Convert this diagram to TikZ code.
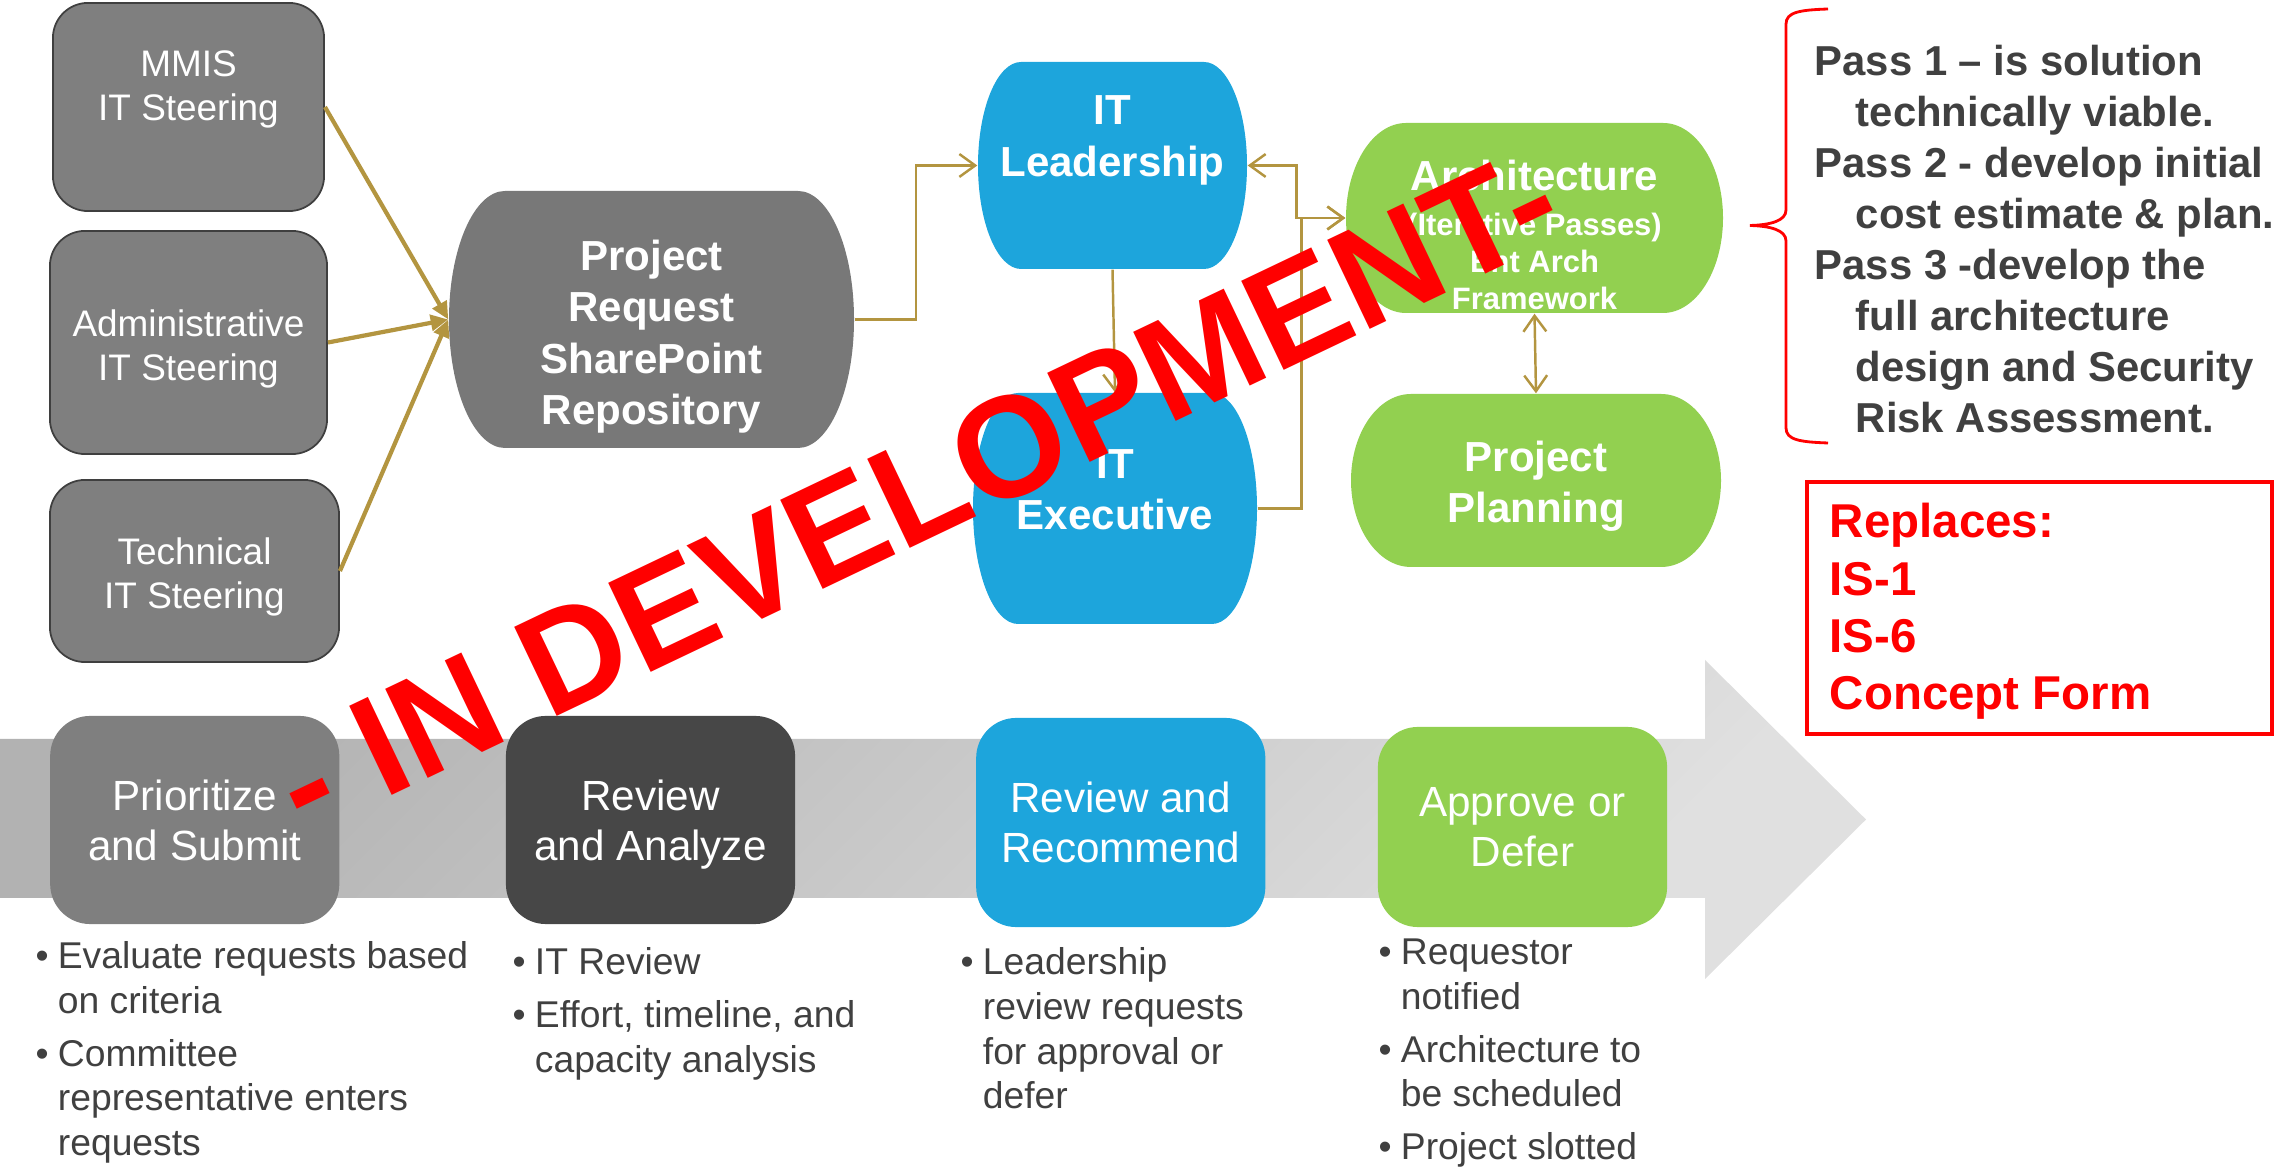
\documentclass[tikz,border=0pt]{standalone}
\usepackage{fontspec}
\setmainfont{Liberation Sans}
\usetikzlibrary{arrows.meta}
\usetikzlibrary{calc}
\definecolor{boxgray}{HTML}{7F7F7F}
\definecolor{repogray}{HTML}{787878}
\definecolor{stepdark}{HTML}{474747}
\definecolor{itblue}{HTML}{1DA5DC}
\definecolor{itgreen}{HTML}{92D050}
\definecolor{linkgold}{HTML}{B39540}
\definecolor{notegray}{HTML}{404040}
\definecolor{edgegray}{HTML}{3F3F3F}
\newcommand{\drawbarrel}[8]{
    \begin{scope}[shift={(#2)}]
        \fill [#6] (-#3+#5,-#4) -- (#3-#5,-#4)
            .. controls (#3-0.448*#5,-#4) and (#3,-0.552*#4) .. (#3,0)
            .. controls (#3,0.552*#4) and (#3-0.448*#5,#4) .. (#3-#5,#4)
            -- (-#3+#5,#4)
            .. controls (-#3+0.448*#5,#4) and (-#3,0.552*#4) .. (-#3,0)
            .. controls (-#3,-0.552*#4) and (-#3+0.448*#5,-#4) .. cycle;
    \end{scope}
    \node [minimum width={2*#3*0.01cm}, minimum height={2*#4*0.01cm}, inner sep=0pt] (#1) at (#2) {};
    \node [barreltext, #7] (#1-text) at (#2) {#8};
}
\tikzset{
    >={Straight Barb[length=4.5pt,width=6.5pt]},
    steerbox/.style={draw=edgegray, line width=0.5pt, fill=boxgray, rounded corners=0.35cm, inner sep=0pt},
    steertext/.style={inner sep=0pt, text=white, align=center, font=\fontsize{10.5}{12.5}\selectfont},
    stagebox/.style={fill=#1, rounded corners=0.4cm, inner sep=0pt, minimum width=2.89cm, minimum height=2.08cm, text=white, align=center, text depth=0pt, font=\fontsize{12}{14.2}\selectfont},
    barreltext/.style={inner sep=0pt, text=white, align=center, font=\bfseries\fontsize{11.95}{14.6}\selectfont},
    feed/.style={draw=linkgold, line width=1.2pt, -{Triangle[length=5pt,width=4.5pt]}},
    link/.style={draw=linkgold, line width=0.7pt, ->},
    notes/.style={anchor=base west, inner sep=0pt, text=notegray, font=\fontsize{10.6}{12.66}\selectfont},
    passnote/.style={anchor=base west, inner sep=0pt, text=notegray, font=\bfseries\fontsize{11.9}{14.5}\selectfont},
    replnote/.style={anchor=base west, inner sep=0pt, text=red, font=\bfseries\fontsize{13.5}{16.3}\selectfont},
    watermark/.style={rotate=25.5, inner sep=0pt, text=red, font=\bfseries\fontsize{40.8}{49}\selectfont},
}
\begin{document}
\begin{tikzpicture}[x=0.01cm, y=-0.01cm]
    \useasboundingbox (0,0) rectangle (2279,1168);
    % steering committees
    \node [steerbox, minimum width=2.71cm, minimum height=2.08cm] (mmis) at (188.5,107) {};
    \node [steertext] (mmis-text) at (188.5,89) {MMIS\\IT Steering};
    \node [steerbox, minimum width=2.77cm, minimum height=2.23cm] (admin) at (188.5,342.5) {};
    \node [steertext] (admin-text) at (188.5,348.5) {Administrative\\IT Steering};
    \node [steerbox, minimum width=2.89cm, minimum height=1.82cm] (tech) at (194.5,571) {};
    \node [steertext] (tech-text) at (194.5,577) {Technical\\IT Steering};
    % repository and reviewers
    \drawbarrel{pr}{651.5,319.5}{202.5}{128.5}{56}{repogray}{yshift=-0.17cm}{Project\\Request\\SharePoint\\Repository}
    \drawbarrel{lead}{1112.5,165.5}{134.5}{103.5}{43}{itblue}{yshift=0.25cm}{IT\\Leadership}
    \drawbarrel{exec}{1115,508.5}{142}{115.5}{45}{itblue}{yshift=0.19cm}{IT\\Executive}
    \drawbarrel{arch}{1534.5,218}{188.5}{95}{60}{itgreen}{yshift=-0.17cm, font=\bfseries\fontsize{8.8}{10.5}\selectfont}{{\fontsize{11.95}{14}\selectfont Architecture}\\[2.3pt](Iterative Passes)\\Ent Arch\\Framework}
    \drawbarrel{plan}{1536,480.5}{185}{86.5}{60}{itgreen}{yshift=-0.06cm}{Project\\Planning}
    % connectors
    \draw [feed] (mmis.east) -- (pr.west);
    \draw [feed] (admin.east) -- (pr.west);
    \draw [feed] (tech.east) -- (pr.west);
    \draw [link] (pr.east) -| ($(pr.east)!0.5!(lead.west)$) |- (lead.west);
    \draw [link, <->] (lead.east) -| ($(lead.east)!0.5!(arch.west)$) |- (arch.west);
    \draw [link] (exec.east) -| ($(exec.east)!0.5!(arch.west)$) |- (arch.west);
    \draw [link] (lead.south) -- (exec.north);
    \draw [link, <->] (arch.south) -- (plan.north);
    % architecture passes
    \draw [red, line width=0.8pt] (1828,9) .. controls (1800,10) and (1786,12) .. (1786,24) -- (1786,210)
        .. controls (1786,221) and (1770,225) .. (1750,225.5) .. controls (1770,226) and (1786,230) .. (1786,241)
        -- (1786,428) .. controls (1786,440) and (1800,442) .. (1828,443);
    \node [passnote] (passes) at (1814,75.5) {\begin{tabular}[t]{@{}l@{}}Pass 1 – is solution\\\hspace*{11.7pt}technically viable.\\Pass 2 - develop initial\\\hspace*{11.7pt}cost estimate \& plan.\\Pass 3 -develop the\\\hspace*{11.7pt}full architecture\\\hspace*{11.7pt}design and Security\\\hspace*{11.7pt}Risk Assessment.\end{tabular}};
    \node [draw=red, line width=1pt, minimum width=4.65cm, minimum height=2.52cm, inner sep=0pt] (replaces) at (2039.5,608) {};
    \node [replnote] (replaces-text) at (1829,538) {\begin{tabular}[t]{@{}l@{}}Replaces:\\IS-1\\IS-6\\Concept Form\end{tabular}};
    % timeline
    \shade [left color=black!30, right color=black!12, shading angle=45] (0,739) -- (1705,739) -- (1705,660) -- (1866,819.5) -- (1705,979) -- (1705,898) -- (0,898) -- cycle;
    \node [stagebox=boxgray] (prioritize) at (194.75,820) {Prioritize\\and Submit};
    \node [stagebox=stepdark] (analyze) at (650.5,820) {Review\\and Analyze};
    \node [stagebox=itblue, minimum height=2.09cm] (recommend) at (1120.75,822.5) {Review and\\Recommend};
    \node [stagebox=itgreen, minimum height=2.0cm] (approve) at (1522.5,827) {Approve or\\Defer};
    % notes under the stages
    \node [notes] (prioritize-notes) at (35,969) {\begin{tabular}[t]{@{}l@{\hspace{2.6pt}}l@{}}•&Evaluate requests based\\&on criteria\\[2.3pt]•&Committee\\&representative enters\\&requests\end{tabular}};
    \node [notes] (analyze-notes) at (512,975) {\begin{tabular}[t]{@{}l@{\hspace{2.6pt}}l@{}}•&IT Review\\[2.3pt]•&Effort, timeline, and\\&capacity analysis\end{tabular}};
    \node [notes] (recommend-notes) at (960,975) {\begin{tabular}[t]{@{}l@{\hspace{2.6pt}}l@{}}•&Leadership\\&review requests\\&for approval or\\&defer\end{tabular}};
    \node [notes] (approve-notes) at (1378,965) {\begin{tabular}[t]{@{}l@{\hspace{2.6pt}}l@{}}•&Requestor\\&notified\\[2.3pt]•&Architecture to\\&be scheduled\\[2.3pt]•&Project slotted\end{tabular}};
    % watermark
    \node [watermark] (wm) at (916,491) {- IN DEVELOPMENT-};
\end{tikzpicture}
\end{document}
